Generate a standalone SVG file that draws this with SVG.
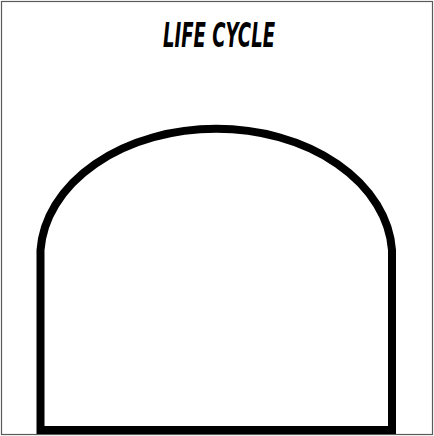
<svg xmlns="http://www.w3.org/2000/svg" width="434" height="436" viewBox="0 0 434 436">
  <style>
    .frame { fill: #ffffff; stroke: #5a5a5a; stroke-width: 1.2; }
    .arch { fill: #ffffff; stroke: #000000; stroke-width: 8; stroke-linejoin: miter; }
    .title { font-family: "DejaVu Sans Condensed", "DejaVu Sans", sans-serif; font-weight: bold; font-style: italic; font-size: 33px; fill: #000000; }
  </style>
  <rect class="frame" x="1.5" y="1.5" width="431" height="433"/>
  <g id="title">
    <text class="title" x="219" y="47" text-anchor="middle" textLength="112" lengthAdjust="spacingAndGlyphs">LIFE CYCLE</text>
  </g>
  <g id="arch">
    <path class="arch" d="M40.5,430 L40.5,250 A176,128 0 0 1 392,250 L392,430 Z"/>
  </g>
  <g id="connectors"></g>
</svg>
